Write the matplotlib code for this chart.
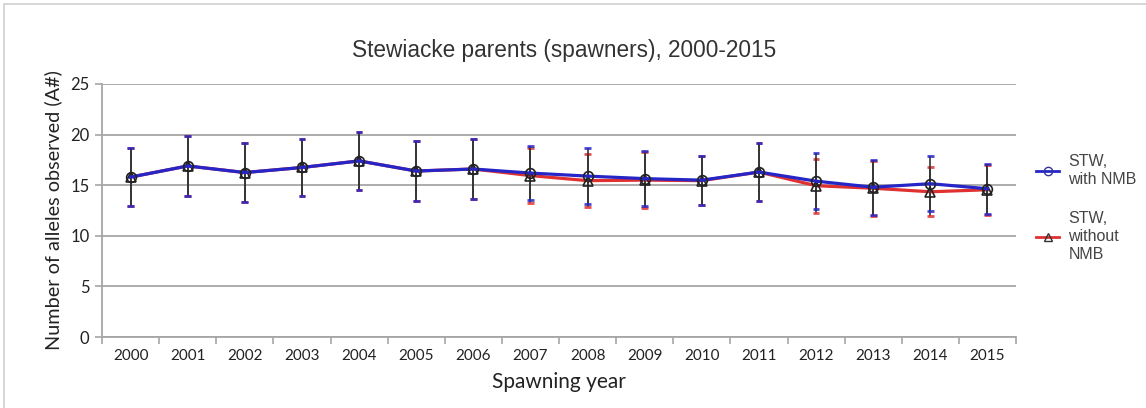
import matplotlib
matplotlib.use("Agg")
import matplotlib.pyplot as plt
from matplotlib.lines import Line2D
from matplotlib.patches import Rectangle
import numpy as np

years = ["2000", "2001", "2002", "2003", "2004", "2005", "2006", "2007",
         "2008", "2009", "2010", "2011", "2012", "2013", "2014", "2015"]

with_nmb_mean = [15.8, 16.9, 16.25, 16.75, 17.4, 16.4, 16.6, 16.2,
                 15.9, 15.65, 15.5, 16.3, 15.4, 14.8, 15.15, 14.65]
with_nmb_sd = [2.85, 2.94, 2.9, 2.83, 2.87, 2.92, 2.94, 2.66,
               2.76, 2.75, 2.42, 2.9, 2.77, 2.71, 2.71, 2.45]

without_nmb_mean = [15.8, 16.9, 16.25, 16.75, 17.4, 16.4, 16.6, 15.95,
                    15.45, 15.5, 15.45, 16.3, 14.95, 14.7, 14.35, 14.55]
without_nmb_sd = [2.85, 2.94, 2.9, 2.83, 2.87, 2.92, 2.94, 2.74,
                  2.63, 2.75, 2.42, 2.9, 2.68, 2.71, 2.43, 2.45]

BLUE = "#2626c8"
RED = "#e03030"
GRID = "#a6a6a6"

fig = plt.figure(figsize=(11.46, 4.08), dpi=100)
ax = fig.add_axes([102 / 1146, 1 - 337 / 408, (1016 - 102) / 1146, (337 - 84) / 408])

# light chart frame
fig.patches.append(Rectangle((4 / 1146, -0.01), 1.1, 1 - 4 / 408 + 0.01,
                             transform=fig.transFigure, fill=False,
                             edgecolor="#d0d0d0", linewidth=1.2))

x = np.arange(len(years))

for mean, sd, col, mk, z in [(without_nmb_mean, without_nmb_sd, RED, "^", 3),
                             (with_nmb_mean, with_nmb_sd, BLUE, "o", 4)]:
    mean = np.array(mean)
    sd = np.array(sd)
    ax.vlines(x, mean - sd, mean + sd, color="#333333", linewidth=1.2, zorder=z)
    ax.hlines(np.concatenate([mean - sd, mean + sd]),
              np.concatenate([x, x]) - 0.06, np.concatenate([x, x]) + 0.06,
              color=col, linewidth=2.0, alpha=0.85, zorder=z + 0.5)
    ax.plot(x, mean, color=col, linewidth=2.3, zorder=z + 1)
    ax.plot(x, mean, linestyle="none", marker=mk, markersize=7,
            markerfacecolor="none", markeredgecolor="#222222",
            markeredgewidth=1.2, zorder=z + 2)

ax.set_xlim(-0.5, len(years) - 0.5)
ax.set_ylim(0, 25)
ax.set_yticks([0, 5, 10, 15, 20, 25])
ax.yaxis.grid(True, color=GRID, linewidth=1.3)
ax.set_axisbelow(True)

ax.set_xticks(x)
ax.set_xticklabels(years, fontsize=11, family="Lato", color="#222222")
ax.set_xticks(np.arange(-0.5, len(years)), minor=True)
ax.tick_params(axis="x", which="major", length=0, pad=9)
ax.tick_params(axis="x", which="minor", length=5, color=GRID, width=1.2, direction="out")
ax.tick_params(axis="y", length=5, color=GRID, width=1.2, labelsize=12,
               labelcolor="#222222", pad=4)
for lab in ax.get_yticklabels():
    lab.set_family("Lato")

for side in ["top", "right"]:
    ax.spines[side].set_visible(False)
for side in ["left", "bottom"]:
    ax.spines[side].set_color(GRID)
    ax.spines[side].set_linewidth(1.3)

ax.set_ylabel("Number of alleles observed (A#)", fontsize=14.3, family="Lato",
              color="#222222", labelpad=6)
ax.set_xlabel("Spawning year", fontsize=15, family="Lato", color="#222222",
              labelpad=6)

fig.text(0.492, 1 - 50 / 408, "Stewiacke parents (spawners), 2000-2015",
         ha="center", va="center", fontsize=16.3, family="Liberation Sans",
         color="#333333")

handles = [
    Line2D([], [], color=BLUE, linewidth=2, marker="o", markersize=6,
           markerfacecolor="none", markeredgecolor="#333399"),
    Line2D([], [], color=RED, linewidth=2, marker="^", markersize=6,
           markerfacecolor="none", markeredgecolor="#333333"),
]
leg = fig.legend(handles, ["STW,\nwith NMB", "STW,\nwithout\nNMB"],
                 loc="upper left", bbox_to_anchor=(1022 / 1146, 1 - 140 / 408),
                 frameon=False, handlelength=1.4, handletextpad=0.6,
                 labelspacing=1.5,
                 prop={"family": "Liberation Sans", "size": 11.5})
for t in leg.get_texts():
    t.set_color("#444444")
    t.set_linespacing(1.25)

fig.savefig("out.png", dpi=100)
